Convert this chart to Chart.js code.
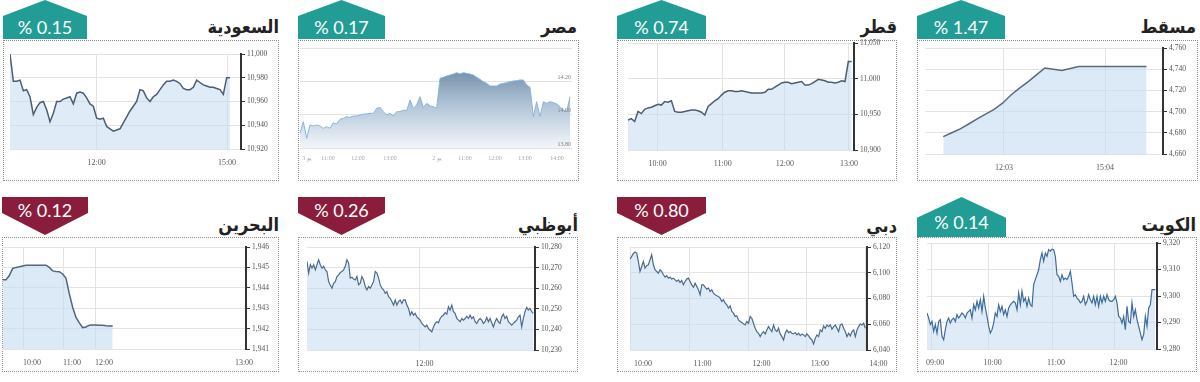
<!DOCTYPE html>
<html><head><meta charset="utf-8">
<script src="https://cdn.jsdelivr.net/npm/chart.js@4.4.0/dist/chart.umd.min.js"></script>
<style>
body{margin:0;width:1200px;height:382px;background:#fff;position:relative;overflow:hidden}
.box{position:absolute;border:1px dotted #8c8c8c;box-sizing:border-box}
canvas{position:absolute}
.title{position:absolute;font-family:'DejaVu Sans Condensed','DejaVu Sans',sans-serif;font-weight:bold;font-size:18px;line-height:24px;color:#222;direction:rtl;white-space:nowrap}
.badge{position:absolute;color:#fff}
.badge span{position:absolute;left:0;width:100%;text-align:center;font-family:Lato,'Open Sans',sans-serif;font-size:18px;line-height:18px;direction:ltr}
</style></head><body>
<script>
// ---------- DATA ----------
const titles = ['السعودية','مصر','قطر','مسقط','البحرين','أبوظبي','دبي','الكويت'];
const changes = ['% 0.15','% 0.17','% 0.74','% 1.47','% 0.12','% 0.26','% 0.80','% 0.14'];

const saudiValues = [11000,10977,10977,10978,10969,10970,10964,10949,10955,10959,10960,10953,10943,10950,10960,10960,10962,10963,10964,10958,10967,10968,10967,10963,10958,10956,10946,10945,10946,10939,10937,10935,10936,10937,10942,10947,10952,10956,10960,10970,10969,10963,10960,10964,10966,10970,10974,10977,10977,10978,10977,10975,10971,10970,10970,10972,10978,10976,10974,10973,10972,10972,10971,10970,10966,10980,10980];
const saudiTickAt = [26, 65.1];
const saudiTickLabels = ['12:00','15:00'];
const saudiY = [10920, 10940, 10960, 10980, 11000];

const egyptValues = [13888,13958,13858,13938,13932,13938,13932,13918,13928,13918,13952,13944,13972,13978,13988,13984,13992,13992,13998,14004,14004,14008,14008,14038,14044,14018,13998,14008,13992,14018,14018,14028,14024,14088,14038,14058,14108,14044,14068,14052,14048,14038,14218,14224,14232,14238,14244,14252,14244,14252,14248,14244,14238,14224,14212,14198,14188,14172,14172,14172,14184,14188,14192,14198,14202,14204,14208,14208,14178,14164,13988,14078,13988,14078,14068,14078,14072,14064,14048,14028,14018,14108];
const egyptTickAt = [2.1, 8.4, 17.4, 27, 41.1, 49.5, 58.5, 67.5, 77.1];
const egyptTickLabels = ['3 يو','11:00','12:00','13:00','2 يو','11:00','12:00','13:00','14:00'];
const egyptY = [13800, 14000, 14200, 14400];

const qatarValues = [10942,10944,10940,10954,10951,10957,10959,10960,10962,10964,10963,10968,10967,10969,10954,10953,10953,10954,10955,10956,10956,10955,10953,10949,10961,10965,10969,10972,10977,10981,10983,10983,10982,10982,10983,10982,10981,10980,10980,10980,10980,10981,10985,10985,10988,10991,10994,10995,10995,10993,10994,10995,10996,10991,10991,10993,10996,10999,10998,10997,10995,10995,10994,10995,10997,10996,11024,11024];
const qatarTickAt = [8.9, 28.4, 47, 66.2];
const qatarTickLabels = ['10:00','11:00','12:00','13:00'];
const qatarY = [10900, 10950, 11000, 11050];

const muscatValues = [4676.4,4680.0,4683.7,4688.3,4693.1,4697.6,4702.1,4707.9,4715.7,4722.2,4728.1,4734.7,4741.1,4739.9,4738.7,4740.7,4742.6,4742.6,4742.6,4742.6,4742.6,4742.6,4742.6,4742.6,4742.6];
const muscatTickAt = [7.17, 19.1];
const muscatTickLabels = ['12:03','15:04'];
const muscatY = [4660, 4680, 4700, 4720, 4740, 4760];

const bahrainValues = [1944.40,1944.40,1944.60,1944.95,1945.00,1945.03,1945.07,1945.11,1945.11,1945.11,1945.11,1945.11,1945.11,1945.11,1945.00,1944.83,1944.80,1944.79,1944.68,1944.46,1943.70,1943.05,1942.55,1942.28,1942.05,1942.08,1942.17,1942.18,1942.18,1942.17,1942.16,1942.14,1942.13,1942.13];
const bahrainTickAt = [6.1, 18.1, 27.7, 69.7];
const bahrainTickLabels = ['10:00','11:00','12:00','13:00'];
const bahrainY = [1941, 1942, 1943, 1944, 1945, 1946];

const abuDhabiValues = [10273.0,10267.3,10271.4,10269.7,10271.4,10268.9,10271.4,10273.8,10271.4,10269.7,10270.6,10268.9,10268.1,10263.2,10261.6,10260.0,10262.4,10263.2,10265.7,10266.5,10267.6,10268.1,10268.9,10270.6,10273.8,10272.2,10264.9,10265.3,10264.4,10264.0,10265.7,10261.6,10262.4,10265.7,10264.0,10260.8,10259.2,10260.8,10260.0,10261.6,10263.2,10268.1,10267.3,10264.9,10261.6,10260.0,10259.2,10257.5,10258.3,10255.9,10255.1,10253.5,10251.8,10254.3,10251.8,10253.5,10254.3,10252.6,10254.3,10254.3,10251.8,10250.2,10246.9,10248.6,10246.9,10247.8,10246.1,10245.3,10244.5,10242.9,10242.1,10241.2,10242.1,10240.4,10239.6,10238.8,10241.2,10242.9,10243.7,10243.2,10245.3,10246.4,10246.9,10248.1,10247.4,10251.0,10249.4,10251.8,10248.6,10247.8,10245.3,10244.5,10243.7,10245.3,10244.5,10245.3,10246.4,10245.3,10246.9,10245.3,10246.1,10243.7,10242.9,10244.5,10245.3,10244.5,10242.9,10243.7,10245.8,10243.7,10245.3,10243.2,10241.2,10243.7,10245.3,10243.7,10242.9,10246.1,10247.4,10245.3,10246.4,10243.7,10242.9,10242.1,10242.9,10243.7,10244.5,10246.1,10246.9,10241.2,10245.3,10248.6,10250.7,10249.4,10250.2,10248.6,10247.8];
const abuDhabiTickAt = [67.6];
const abuDhabiTickLabels = ['12:00'];
const abuDhabiY = [10230, 10240, 10250, 10260, 10270, 10280];

const dubaiValues = [6110.6,6112.7,6114.8,6116.1,6115.3,6108.8,6101.0,6104.9,6108.8,6103.6,6105.5,6106.2,6110.1,6114.0,6106.2,6102.3,6101.0,6099.7,6102.3,6101.0,6098.4,6096.6,6097.7,6095.8,6096.6,6095.1,6095.8,6094.5,6093.2,6094.5,6092.5,6094.0,6090.6,6093.2,6095.1,6095.8,6093.2,6090.6,6088.8,6091.9,6089.4,6086.8,6082.9,6090.6,6090.6,6088.8,6087.3,6088.1,6085.5,6086.8,6084.2,6082.9,6082.1,6081.6,6080.3,6077.7,6079.0,6076.4,6075.1,6072.5,6074.3,6069.9,6068.6,6066.0,6066.5,6063.4,6062.1,6061.3,6060.3,6059.5,6062.1,6060.8,6066.0,6064.7,6060.8,6056.9,6054.3,6053.0,6050.4,6053.0,6054.3,6052.5,6055.6,6058.2,6056.1,6054.3,6059.5,6055.6,6054.3,6056.9,6052.5,6050.4,6047.8,6053.0,6055.6,6053.5,6054.3,6053.0,6052.5,6053.5,6051.7,6053.0,6051.2,6052.5,6051.7,6050.4,6052.5,6050.9,6049.1,6047.8,6044.7,6049.1,6051.7,6050.4,6055.6,6054.3,6058.7,6056.9,6059.5,6058.2,6059.5,6056.1,6058.2,6059.5,6056.9,6054.3,6059.5,6060.3,6056.9,6054.3,6050.4,6053.0,6050.9,6054.3,6055.6,6050.4,6055.6,6058.2,6060.3,6059.5,6060.8,6056.9];
const dubaiTickAt = [0, 35.6, 71, 106, 141];
const dubaiTickLabels = ['10:00','11:00','12:00','13:00','14:00'];
const dubaiY = [6040, 6060, 6080, 6100, 6120];

const kuwaitValues = [9293.6,9291.7,9289.2,9290.4,9286.7,9289.2,9286.0,9290.4,9291.1,9284.8,9283.5,9287.3,9290.4,9291.7,9289.8,9291.1,9291.7,9290.4,9293.0,9291.7,9292.6,9293.6,9293.0,9291.7,9293.6,9294.2,9294.8,9291.7,9296.7,9294.8,9298.0,9295.5,9298.6,9294.2,9299.9,9295.5,9292.3,9288.6,9286.0,9287.3,9289.8,9293.6,9292.3,9296.7,9294.2,9296.1,9293.0,9294.8,9292.3,9295.5,9296.7,9297.4,9298.0,9297.4,9294.8,9301.1,9296.7,9301.8,9298.0,9299.2,9296.1,9299.2,9296.7,9296.1,9304.3,9306.2,9308.0,9309.9,9313.7,9316.2,9313.1,9316.2,9315.0,9317.5,9316.9,9317.7,9317.5,9315.0,9308.0,9307.4,9305.5,9308.0,9306.2,9306.8,9306.2,9307.4,9309.3,9304.9,9299.9,9300.5,9299.2,9298.6,9297.4,9298.0,9299.9,9296.7,9298.0,9300.5,9298.6,9297.4,9299.9,9296.7,9299.9,9296.1,9299.9,9297.4,9299.9,9298.0,9300.5,9298.6,9298.0,9298.0,9298.6,9299.9,9297.4,9292.3,9291.7,9289.8,9292.3,9287.3,9296.1,9290.4,9289.8,9297.4,9292.3,9294.8,9291.1,9288.6,9286.0,9283.5,9285.4,9292.3,9288.6,9295.5,9296.7,9302.4,9302.4,9302.4];
const kuwaitTickAt = [2.5, 37, 75, 112.5];
const kuwaitTickLabels = ['09:00','10:00','11:00','12:00'];
const kuwaitY = [9280, 9290, 9300, 9310, 9320];

// ---------- LAYOUT / STYLE ----------
const TEAL = '#219d95', CRIMSON = '#8b1d3c';
const panels = [
  {values:saudiValues, tickAt:saudiTickAt, tickLabels:saudiTickLabels, yTicks:saudiY, box:[3,40,276,141], area:[10,54,241,149], xMin:0, xMax:69.3, line:'#4c5e72', lw:1.5, fill:'rgba(196,219,240,0.55)', badge:[3,0,84,39,'up'], title:[279,15]},
  {values:egyptValues, tickAt:egyptTickAt, tickLabels:egyptTickLabels, yTicks:egyptY, box:[298,40,281,141], area:[300,48,572,148], xMin:0, xMax:81.6, line:'#88b6dc', lw:1, egypt:true, badge:[298,0,87,39,'up'], title:[577,15]},
  {values:qatarValues, tickAt:qatarTickAt, tickLabels:qatarTickLabels, yTicks:qatarY, box:[617,40,280,141], area:[628,43,854,150], xMin:0, xMax:67.7, line:'#4c5e72', lw:1.5, fill:'rgba(196,219,240,0.55)', badge:[617,0,89,39,'up'], title:[897,15]},
  {values:muscatValues, tickAt:muscatTickAt, tickLabels:muscatTickLabels, yTicks:muscatY, box:[917,40,281,141], area:[925,48,1163,154], xMin:-2.16, xMax:25.95, line:'#5a6a7b', lw:1.5, fill:'rgba(196,219,240,0.6)', badge:[917,0,88,39,'up'], title:[1196,15]},
  {values:bahrainValues, tickAt:bahrainTickAt, tickLabels:bahrainTickLabels, yTicks:bahrainY, box:[2,237,277,135], area:[2,247,246,349], xMin:-0.2, xMax:73, line:'#52667b', lw:1.5, fill:'rgba(196,219,240,0.6)', labelOffset:9, hideGrid:[3], badge:[2,197,86,38,'down'], title:[279,213]},
  {values:abuDhabiValues, tickAt:abuDhabiTickAt, tickLabels:abuDhabiTickLabels, yTicks:abuDhabiY, box:[298,237,280,135], area:[307,247,535,350], xMin:0, xMax:137, line:'#4d6c8b', lw:1.2, fill:'rgba(196,219,240,0.55)', labelOffset:5, badge:[298,197,87,38,'down'], title:[578,213]},
  {values:dubaiValues, tickAt:dubaiTickAt, tickLabels:dubaiTickLabels, yTicks:dubaiY, box:[617,237,280,135], area:[630,247,867,350], xMin:0, xMax:142, line:'#4d6c8b', lw:1.2, fill:'rgba(196,219,240,0.55)', labelOffset:13, badge:[617,197,89,38,'down'], title:[897,214]},
  {values:kuwaitValues, tickAt:kuwaitTickAt, tickLabels:kuwaitTickLabels, yTicks:kuwaitY, box:[917,237,280,135], area:[927,243,1157,349], xMin:0, xMax:138, line:'#3e6c9c', lw:1.2, fill:'rgba(196,219,240,0.55)', labelOffset:4, badge:[917,197,89,40,'upLow'], title:[1196,213]},
];

const fmt = v => Math.round(v).toString().replace(/\B(?=(\d{3})+(?!\d))/g, ',');
function zeroPad(s){ s.paddingTop = 0; s.paddingBottom = 0; s.paddingLeft = 0; s.paddingRight = 0; }

// draws Egypt's small in-plot value labels above its gridlines, using the chart's y scale
const insideLabels = {
  id: 'insideLabels',
  afterDatasetsDraw(chart) {
    const s = chart.scales.y, ca = chart.chartArea, c = chart.ctx;
    const vals = chart.options.plugins.insideLabels.values;
    c.save();
    c.font = '6px "Liberation Serif"';
    c.fillStyle = '#7d7d7d';
    c.textAlign = 'right';
    c.textBaseline = 'bottom';
    vals.forEach(v => c.fillText((v / 1000).toFixed(2), ca.right - 1, s.getPixelForValue(v) - 1));
    c.restore();
  }
};

panels.forEach((p, k) => {
  // badge
  const [bx, by, bw, bh, kind] = p.badge;
  const b = document.createElement('div');
  b.className = 'badge';
  Object.assign(b.style, {left: bx+'px', top: by+'px', width: bw+'px', height: bh+'px'});
  const sp = document.createElement('span');
  sp.textContent = changes[k];
  if (kind === 'up') { b.style.background = TEAL; b.style.clipPath = 'polygon(50% 0,100% 41%,100% 100%,0 100%,0 41%)'; sp.style.top = '18px'; }
  else if (kind === 'upLow') { b.style.background = TEAL; b.style.clipPath = 'polygon(50% 0,100% 52%,100% 100%,0 100%,0 52%)'; sp.style.top = '16px'; }
  else { b.style.background = CRIMSON; b.style.clipPath = 'polygon(0 0,100% 0,100% 42%,50% 100%,0 42%)'; sp.style.top = '4px'; }
  b.appendChild(sp);
  document.body.appendChild(b);

  // title
  const t = document.createElement('div');
  t.className = 'title';
  t.textContent = titles[k];
  t.style.right = (1200 - p.title[0]) + 'px';
  t.style.top = p.title[1] + 'px';
  document.body.appendChild(t);

  // box
  const [X, Y, W, H] = p.box;
  const box = document.createElement('div');
  box.className = 'box';
  Object.assign(box.style, {left: X+'px', top: Y+'px', width: W+'px', height: H+'px'});
  document.body.appendChild(box);

  // canvas
  const cl = X, ct = Y - 8, cw = W, ch = H + 8;
  const cv = document.createElement('canvas');
  cv.width = cw; cv.height = ch;
  cv.style.left = cl + 'px'; cv.style.top = ct + 'px';
  document.body.appendChild(cv);
  const [al, at, ar, ab] = p.area;
  const yW = (cl + cw) - ar, xH = (ct + ch) - ab;

  const fillColor = p.egypt ? (ctx) => {
    const ca = ctx.chart.chartArea; if (!ca) return 'rgba(0,0,0,0)';
    const g = ctx.chart.ctx.createLinearGradient(0, ca.top + 24, 0, ca.bottom);
    g.addColorStop(0, '#7792ac'); g.addColorStop(0.45, '#b3c6d9'); g.addColorStop(1, '#f3f6fa');
    return g;
  } : p.fill;

  new Chart(cv.getContext('2d'), {
    type: 'line',
    plugins: p.egypt ? [insideLabels] : [],
    data: { datasets: [{
      data: p.values.map((v, i) => ({x: i, y: v})),
      borderColor: p.line, borderWidth: p.lw, backgroundColor: fillColor,
      fill: 'start', pointRadius: 0, tension: 0
    }]},
    options: {
      responsive: false, animation: false, devicePixelRatio: 1, events: [],
      layout: { padding: { left: al - cl, top: at - ct, right: 0, bottom: 0 } },
      plugins: { legend: {display: false}, tooltip: {enabled: false},
                 insideLabels: { values: p.yTicks.slice(0, -1) } },
      scales: {
        x: {
          type: 'linear', min: p.xMin, max: p.xMax,
          afterBuildTicks: s => { s.ticks = p.tickAt.map(v => ({value: v})); },
          afterFit: s => { s.height = xH; zeroPad(s); },
          grid: { display: !p.egypt, drawTicks: false,
                  color: c => (p.hideGrid && p.hideGrid.includes(c.index)) ? 'rgba(0,0,0,0)' : '#e3e3e3' },
          border: { display: false },
          ticks: { autoSkip: false, maxRotation: 0, padding: p.egypt ? 7 : 9, labelOffset: p.labelOffset || 0,
                   font: { family: 'Liberation Serif', size: p.egypt ? 6 : 8 }, color: p.egypt ? '#a8a8a8' : '#5a5a5a',
                   callback: (v, i) => p.tickLabels[i] }
        },
        y: {
          position: 'right', min: p.yTicks[0], max: p.yTicks[p.yTicks.length - 1],
          afterBuildTicks: s => { s.ticks = p.yTicks.map(v => ({value: v})); },
          afterFit: s => { s.width = yW; zeroPad(s); },
          grid: { color: '#e3e3e3', tickColor: '#333', tickLength: 4, drawTicks: !p.egypt },
          border: { display: !p.egypt, color: '#333', width: 2 },
          ticks: p.egypt ? { display: false } : {
            padding: 2, font: {family: 'Liberation Serif', size: 7.5}, color: '#555',
            callback: v => fmt(v)
          }
        }
      }
    }
  });
});
</script>
</body></html>
